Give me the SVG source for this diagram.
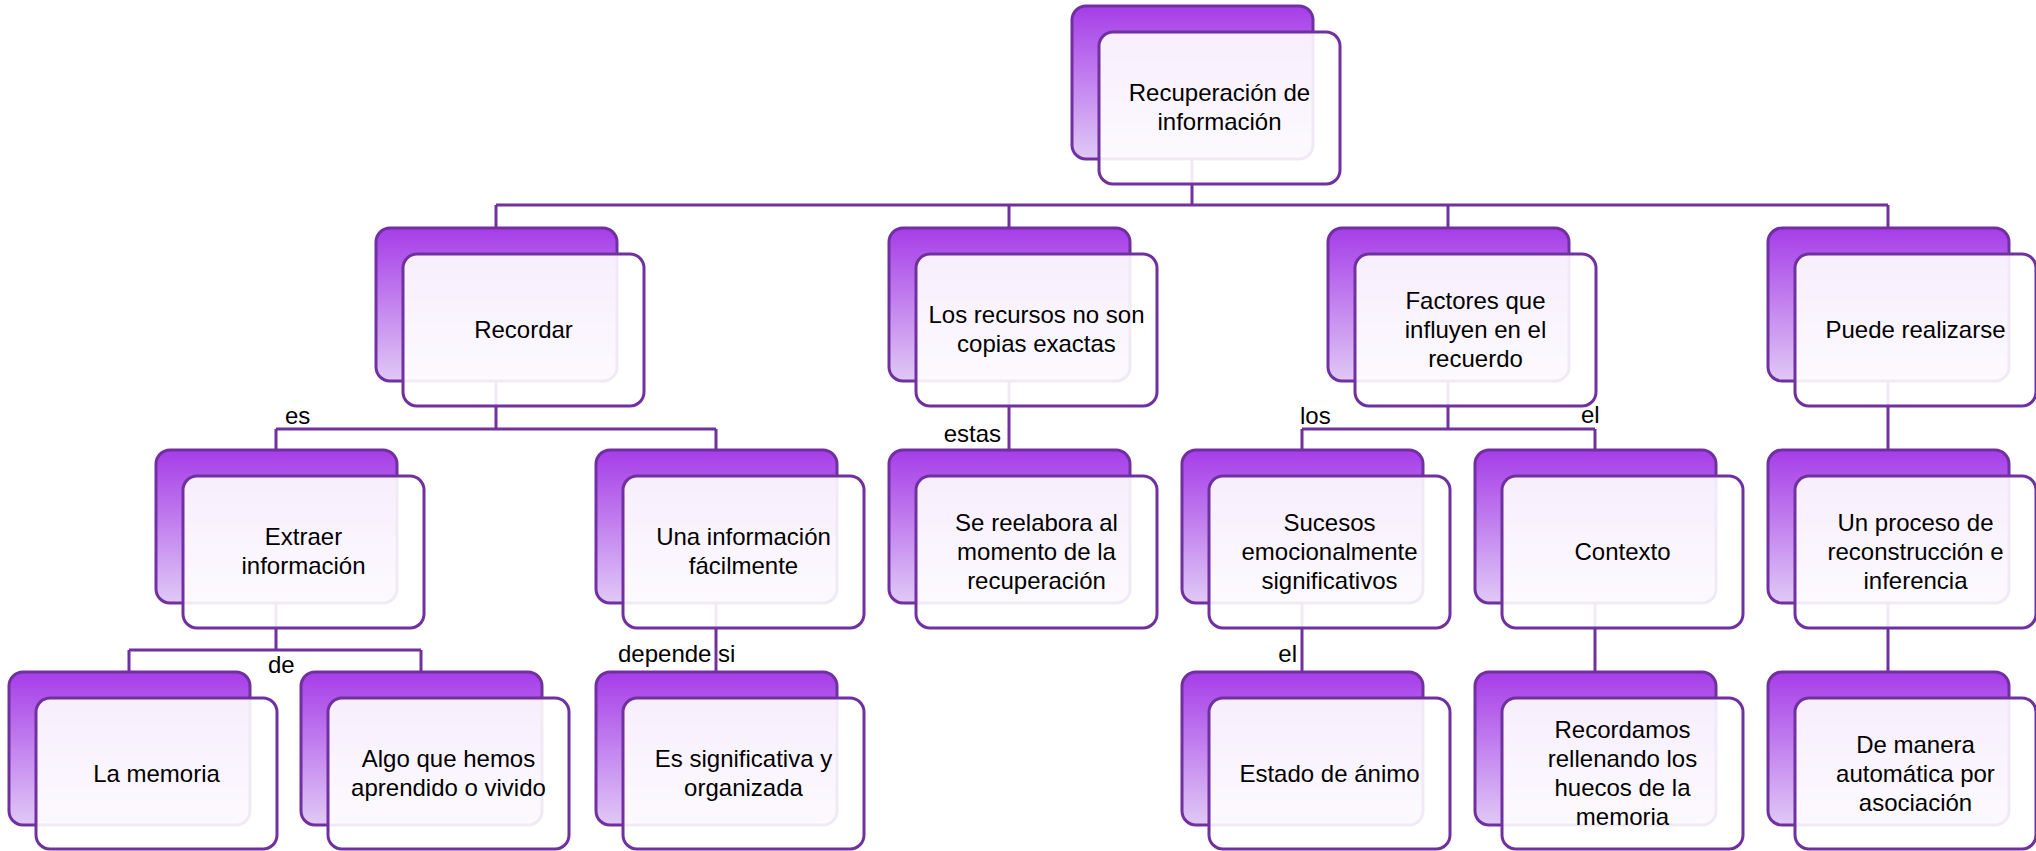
<svg xmlns="http://www.w3.org/2000/svg" width="2036" height="851" viewBox="0 0 2036 851">
<defs>
<linearGradient id="g" x1="0" y1="0" x2="0" y2="1">
<stop offset="0" stop-color="#a63de8"/>
<stop offset="1" stop-color="#e0c9f6"/>
</linearGradient>
<style>
.b{fill:url(#g);stroke:#7030a0;stroke-width:3}
.f{fill:#ffffff;fill-opacity:0.9;stroke:#7030a0;stroke-width:3}
.t{font-family:"Liberation Sans",Arial,sans-serif;font-size:24px;fill:#000;text-anchor:middle}
.l{font-family:"Liberation Sans",Arial,sans-serif;font-size:24px;fill:#000}
.c{stroke:#7030a0;stroke-width:3;fill:none}
</style>
</defs>
<rect width="2036" height="851" fill="#ffffff"/>
<g id="connectors">
<path class="c" d="M1192 159V205M496 205H1888M496 205V228M1009 205V228M1448 205V228M1888 205V228"/>
<path class="c" d="M496 382V429M276 429H716M276 429V450M716 429V450"/>
<path class="c" d="M1009 382V450"/>
<path class="c" d="M1448 382V429M1302 429H1595M1302 429V450M1595 429V450"/>
<path class="c" d="M1888 382V450"/>
<path class="c" d="M276 603V650M129 650H421M129 650V672M421 650V672"/>
<path class="c" d="M716 603V672"/>
<path class="c" d="M1302 603V672"/>
<path class="c" d="M1595 603V672"/>
<path class="c" d="M1888 603V672"/>
</g>
<g id="labels">
<text class="l" x="285" y="424">es</text>
<text class="l" x="1001" y="442" text-anchor="end">estas</text>
<text class="l" x="1300" y="424">los</text>
<text class="l" x="1581" y="423">el</text>
<text class="l" x="268" y="673">de</text>
<text class="l" x="618" y="662">depende si</text>
<text class="l" x="1297" y="662" text-anchor="end">el</text>
</g>
<g id="n0">
<rect class="b" x="1072" y="6" width="241" height="153" rx="14"/>
<rect class="f" x="1099" y="32" width="241" height="152" rx="14"/>
<text class="t" x="1219.5" y="101">Recuperación de</text>
<text class="t" x="1219.5" y="130">información</text>
</g>
<g id="n1">
<rect class="b" x="376" y="228" width="241" height="153" rx="14"/>
<rect class="f" x="403" y="254" width="241" height="152" rx="14"/>
<text class="t" x="523.5" y="338">Recordar</text>
</g>
<g id="n2">
<rect class="b" x="889" y="228" width="241" height="153" rx="14"/>
<rect class="f" x="916" y="254" width="241" height="152" rx="14"/>
<text class="t" x="1036.5" y="323">Los recursos no son</text>
<text class="t" x="1036.5" y="352">copias exactas</text>
</g>
<g id="n3">
<rect class="b" x="1328" y="228" width="241" height="153" rx="14"/>
<rect class="f" x="1355" y="254" width="241" height="152" rx="14"/>
<text class="t" x="1475.5" y="309">Factores que</text>
<text class="t" x="1475.5" y="338">influyen en el</text>
<text class="t" x="1475.5" y="367">recuerdo</text>
</g>
<g id="n4">
<rect class="b" x="1768" y="228" width="241" height="153" rx="14"/>
<rect class="f" x="1795" y="254" width="241" height="152" rx="14"/>
<text class="t" x="1915.5" y="338">Puede realizarse</text>
</g>
<g id="n5">
<rect class="b" x="156" y="450" width="241" height="153" rx="14"/>
<rect class="f" x="183" y="476" width="241" height="152" rx="14"/>
<text class="t" x="303.5" y="545">Extraer</text>
<text class="t" x="303.5" y="574">información</text>
</g>
<g id="n6">
<rect class="b" x="596" y="450" width="241" height="153" rx="14"/>
<rect class="f" x="623" y="476" width="241" height="152" rx="14"/>
<text class="t" x="743.5" y="545">Una información</text>
<text class="t" x="743.5" y="574">fácilmente</text>
</g>
<g id="n7">
<rect class="b" x="889" y="450" width="241" height="153" rx="14"/>
<rect class="f" x="916" y="476" width="241" height="152" rx="14"/>
<text class="t" x="1036.5" y="531">Se reelabora al</text>
<text class="t" x="1036.5" y="560">momento de la</text>
<text class="t" x="1036.5" y="589">recuperación</text>
</g>
<g id="n8">
<rect class="b" x="1182" y="450" width="241" height="153" rx="14"/>
<rect class="f" x="1209" y="476" width="241" height="152" rx="14"/>
<text class="t" x="1329.5" y="531">Sucesos</text>
<text class="t" x="1329.5" y="560">emocionalmente</text>
<text class="t" x="1329.5" y="589">significativos</text>
</g>
<g id="n9">
<rect class="b" x="1475" y="450" width="241" height="153" rx="14"/>
<rect class="f" x="1502" y="476" width="241" height="152" rx="14"/>
<text class="t" x="1622.5" y="560">Contexto</text>
</g>
<g id="n10">
<rect class="b" x="1768" y="450" width="241" height="153" rx="14"/>
<rect class="f" x="1795" y="476" width="241" height="152" rx="14"/>
<text class="t" x="1915.5" y="531">Un proceso de</text>
<text class="t" x="1915.5" y="560">reconstrucción e</text>
<text class="t" x="1915.5" y="589">inferencia</text>
</g>
<g id="n11">
<rect class="b" x="9" y="672" width="241" height="153" rx="14"/>
<rect class="f" x="36" y="698" width="241" height="151" rx="14"/>
<text class="t" x="156.5" y="782">La memoria</text>
</g>
<g id="n12">
<rect class="b" x="301" y="672" width="241" height="153" rx="14"/>
<rect class="f" x="328" y="698" width="241" height="151" rx="14"/>
<text class="t" x="448.5" y="767">Algo que hemos</text>
<text class="t" x="448.5" y="796">aprendido o vivido</text>
</g>
<g id="n13">
<rect class="b" x="596" y="672" width="241" height="153" rx="14"/>
<rect class="f" x="623" y="698" width="241" height="151" rx="14"/>
<text class="t" x="743.5" y="767">Es significativa y</text>
<text class="t" x="743.5" y="796">organizada</text>
</g>
<g id="n14">
<rect class="b" x="1182" y="672" width="241" height="153" rx="14"/>
<rect class="f" x="1209" y="698" width="241" height="151" rx="14"/>
<text class="t" x="1329.5" y="782">Estado de ánimo</text>
</g>
<g id="n15">
<rect class="b" x="1475" y="672" width="241" height="153" rx="14"/>
<rect class="f" x="1502" y="698" width="241" height="151" rx="14"/>
<text class="t" x="1622.5" y="738">Recordamos</text>
<text class="t" x="1622.5" y="767">rellenando los</text>
<text class="t" x="1622.5" y="796">huecos de la</text>
<text class="t" x="1622.5" y="825">memoria</text>
</g>
<g id="n16">
<rect class="b" x="1768" y="672" width="241" height="153" rx="14"/>
<rect class="f" x="1795" y="698" width="241" height="151" rx="14"/>
<text class="t" x="1915.5" y="753">De manera</text>
<text class="t" x="1915.5" y="782">automática por</text>
<text class="t" x="1915.5" y="811">asociación</text>
</g>
</svg>
